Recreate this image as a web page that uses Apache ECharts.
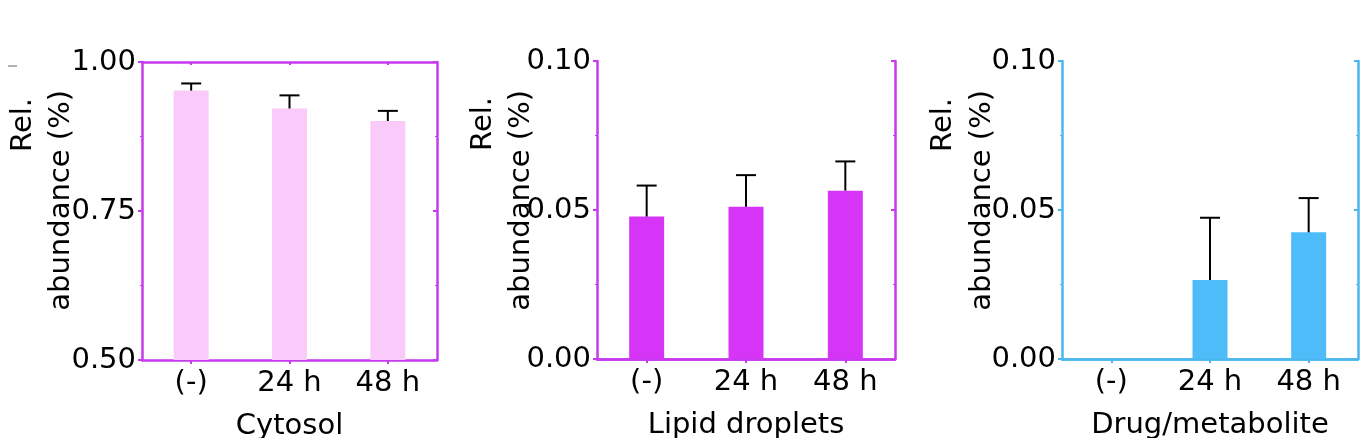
<!DOCTYPE html>
<html>
<head>
<meta charset="utf-8">
<script src="https://cdn.jsdelivr.net/npm/echarts@6/dist/echarts.min.js"></script>
<style>
html,body{margin:0;padding:0;background:#fff;}
#c{width:1371px;height:438px;}
</style>
</head>
<body>
<div id="c"></div>
<script>
// ---- data ----
const categories = ['(-)', '24 h', '48 h'];
const cytosolMean = [0.952, 0.922, 0.901];
const cytosolErr = [0.012, 0.022, 0.017];
const lipidMean = [0.0478, 0.0511, 0.0565];
const lipidErr = [0.0104, 0.0106, 0.0098];
const drugMean = [null, 0.0265, 0.0425];
const drugErr = [null, 0.0209, 0.0115];
const panelNames = ['Cytosol', 'Lipid droplets', 'Drug/metabolite'];
const yTicks1 = [0.5, 1.0, 0.25];   // min, max, interval
const yTicks2 = [0, 0.1, 0.05];
const yTicks3 = [0, 0.1, 0.05];

// ---- styles ----
const FONT = 'DejaVu Sans';
const FS = 29;
const panels = [
  {mean: cytosolMean, err: cytosolErr, y: yTicks1, bar: '#FACBFA', axis: '#C63AEE',
   grid: {left: 142, top: 62, width: 295, height: 298}},
  {mean: lipidMean, err: lipidErr, y: yTicks2, bar: '#D634F6', axis: '#C63AEE',
   grid: {left: 597, top: 61, width: 298, height: 298}},
  {mean: drugMean, err: drugErr, y: yTicks3, bar: '#4DBCF9', axis: '#4AB6EE',
   grid: {left: 1062, top: 61, width: 296, height: 298}}
];

const grid = [], xAxis = [], yAxis = [], series = [];
panels.forEach((p, i) => {
  grid.push(Object.assign({containLabel: false, outerBoundsMode: 'none'}, p.grid));
  const line = {show: true, lineStyle: {color: p.axis, width: 2.5}};
  // bottom category axis
  xAxis.push({
    type: 'category', data: categories, gridIndex: i, position: 'bottom',
    axisLine: line,
    axisTick: {show: true, alignWithLabel: true, length: 4, lineStyle: {color: p.axis, width: 2}},
    axisLabel: {color: '#000', fontFamily: FONT, fontSize: FS, margin: 9},
    name: panelNames[i], nameLocation: 'middle', nameGap: 52,
    nameTextStyle: {color: '#000', fontFamily: FONT, fontSize: FS},
    splitLine: {show: false}
  });
  // top mirror axis
  xAxis.push({
    type: 'category', data: categories, gridIndex: i, position: 'top',
    axisLine: line,
    axisTick: {show: true, inside: true, alignWithLabel: true, length: 3, lineStyle: {color: p.axis, width: 2}},
    axisLabel: {show: false}, splitLine: {show: false}
  });
  const yBase = {
    type: 'value', gridIndex: i, min: p.y[0], max: p.y[1], interval: p.y[2],
    axisLine: line, splitLine: {show: false},
    minorTick: {show: true, splitNumber: 2, length: 2, lineStyle: {color: p.axis, width: 1}}
  };
  yAxis.push(Object.assign({}, yBase, {
    position: 'left',
    axisTick: {show: true, length: 4, lineStyle: {color: p.axis, width: 2}},
    axisLabel: {color: '#000', fontFamily: FONT, fontSize: FS, margin: 6,
      formatter: v => v.toFixed(2)}
  }));
  yAxis.push(Object.assign({}, yBase, {
    position: 'right',
    axisTick: {show: true, inside: true, length: 4, lineStyle: {color: p.axis, width: 2}},
    axisLabel: {show: false}
  }));
  series.push({
    type: 'bar', xAxisIndex: i * 2, yAxisIndex: i * 2, data: p.mean,
    barWidth: 35, itemStyle: {color: p.bar}, clip: true, z: 2
  });
  const errData = [];
  p.mean.forEach((m, k) => { if (m != null && p.err[k] != null) errData.push([k, m, p.err[k]]); });
  series.push({
    type: 'custom', xAxisIndex: i * 2, yAxisIndex: i * 2, data: errData, z: 3,
    renderItem: function (params, api) {
      const x = api.value(0), v = api.value(1), e = api.value(2);
      const b = api.coord([x, v]);
      const t = api.coord([x, v + e]);
      const hw = 10;
      return {type: 'group', children: [
        {type: 'line', shape: {x1: b[0], y1: b[1], x2: t[0], y2: t[1]}, style: {stroke: '#000', lineWidth: 2}},
        {type: 'line', shape: {x1: t[0] - hw, y1: t[1], x2: t[0] + hw, y2: t[1]}, style: {stroke: '#000', lineWidth: 2}}
      ]};
    }
  });
});

// y-axis titles (two lines, rotated)
const yTitleStyle = {fill: '#000', font: FS + 'px "DejaVu Sans"', textAlign: 'right', textVerticalAlign: 'bottom'};
const yTitlePos = [[38, 98, 76, 90], [498, 97, 536, 90], [958, 98, 997, 90]];
const graphic = [];
yTitlePos.forEach(q => {
  graphic.push({type: 'text', x: q[0], y: q[1], rotation: Math.PI / 2,
    style: Object.assign({text: 'Rel.'}, yTitleStyle)});
  graphic.push({type: 'text', x: q[2], y: q[3], rotation: Math.PI / 2,
    style: Object.assign({text: 'abundance (%)'}, yTitleStyle)});
});
graphic.push({type: 'line', shape: {x1: 8, y1: 66, x2: 17, y2: 66}, style: {stroke: '#999', lineWidth: 1.5}});

const chart = echarts.init(document.getElementById('c'), null, {renderer: 'canvas'});
chart.setOption({
  animation: false,
  backgroundColor: '#fff',
  grid, xAxis, yAxis, series, graphic
});
</script>
</body>
</html>
